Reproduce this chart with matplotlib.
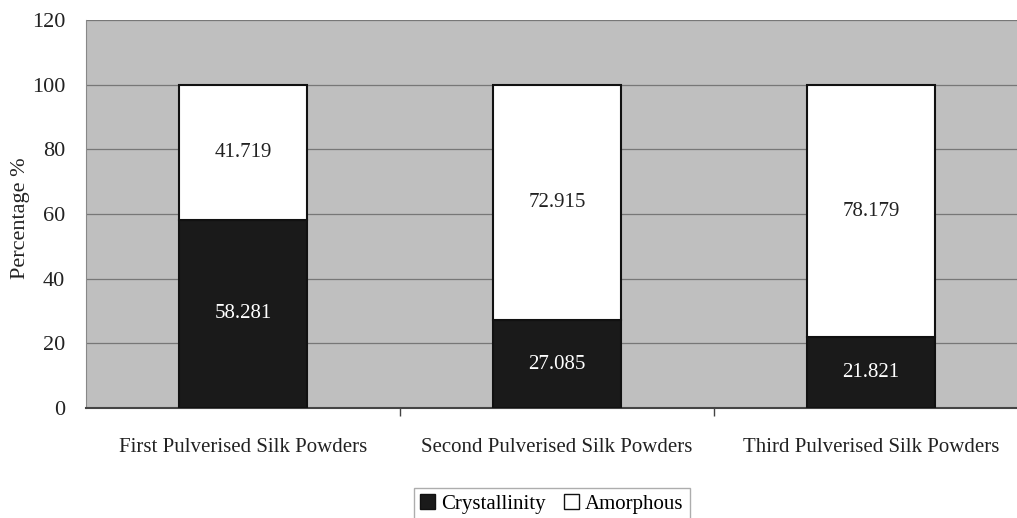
import matplotlib
matplotlib.use("Agg")
import matplotlib.pyplot as plt
from matplotlib.patches import Patch

categories = ["First Pulverised Silk Powders",
              "Second Pulverised Silk Powders",
              "Third Pulverised Silk Powders"]
crystallinity = [58.281, 27.085, 21.821]
amorphous = [41.719, 72.915, 78.179]
yticks = [0, 20, 40, 60, 80, 100, 120]

plt.rcParams["font.family"] = ["Liberation Serif", "DejaVu Serif"]

fig = plt.figure(figsize=(10.17, 5.18), dpi=100)
ax = fig.add_axes([86 / 1017, 1 - 408 / 518, 942 / 1017, 388 / 518])
ax.set_facecolor("#bfbfbf")

x = list(range(len(categories)))
width = 0.405
ax.bar(x, crystallinity, width, color="#1a1a1a", edgecolor="#111111", linewidth=1.5, zorder=3)
ax.bar(x, amorphous, width, bottom=crystallinity, color="white", edgecolor="#111111",
       linewidth=1.5, zorder=3)

for xi, c, a in zip(x, crystallinity, amorphous):
    ax.text(xi, c / 2, f"{c:g}", ha="center", va="center", color="white", fontsize=15, zorder=4)
    ax.text(xi, c + a / 2, f"{a:g}", ha="center", va="center", color="#222222", fontsize=15, zorder=4)

ax.set_xlim(-0.5, 2.5)
ax.set_ylim(0, 120)
ax.set_yticks(yticks)
ax.set_yticklabels([str(t) for t in yticks], fontsize=16, color="#222222")
ax.tick_params(axis="y", length=0, pad=15)
ax.yaxis.grid(True, color="#777777", linewidth=0.9, zorder=1)

ax.set_xticks([0.5, 1.5], minor=False)
ax.set_xticklabels([])
ax.tick_params(axis="x", length=6, color="#444444", width=1)
for xi, name in zip(x, categories):
    ax.text(xi, -12.3, name, ha="center", va="center", fontsize=15, color="#222222")

for side in ["top", "right"]:
    ax.spines[side].set_visible(False)
ax.spines["left"].set_color("#888888")
ax.spines["bottom"].set_color("#444444")
ax.spines["bottom"].set_linewidth(1.5)

ax.set_ylabel("Percentage %", fontsize=16, color="#222222")
ax.yaxis.set_label_coords(-56 / 942, 0.49)

handles = [Patch(facecolor="#1a1a1a", edgecolor="#111111", label="Crystallinity"),
           Patch(facecolor="white", edgecolor="#111111", label="Amorphous")]
leg = fig.legend(handles=handles, loc="center", bbox_to_anchor=(552 / 1017, 1 - 504 / 518),
                 ncol=2, fontsize=15, frameon=True, fancybox=False, edgecolor="#999999",
                 handlelength=0.7, handleheight=0.7, handletextpad=0.3, columnspacing=0.9,
                 borderpad=0.3)

fig.savefig("out.png", dpi=100)
